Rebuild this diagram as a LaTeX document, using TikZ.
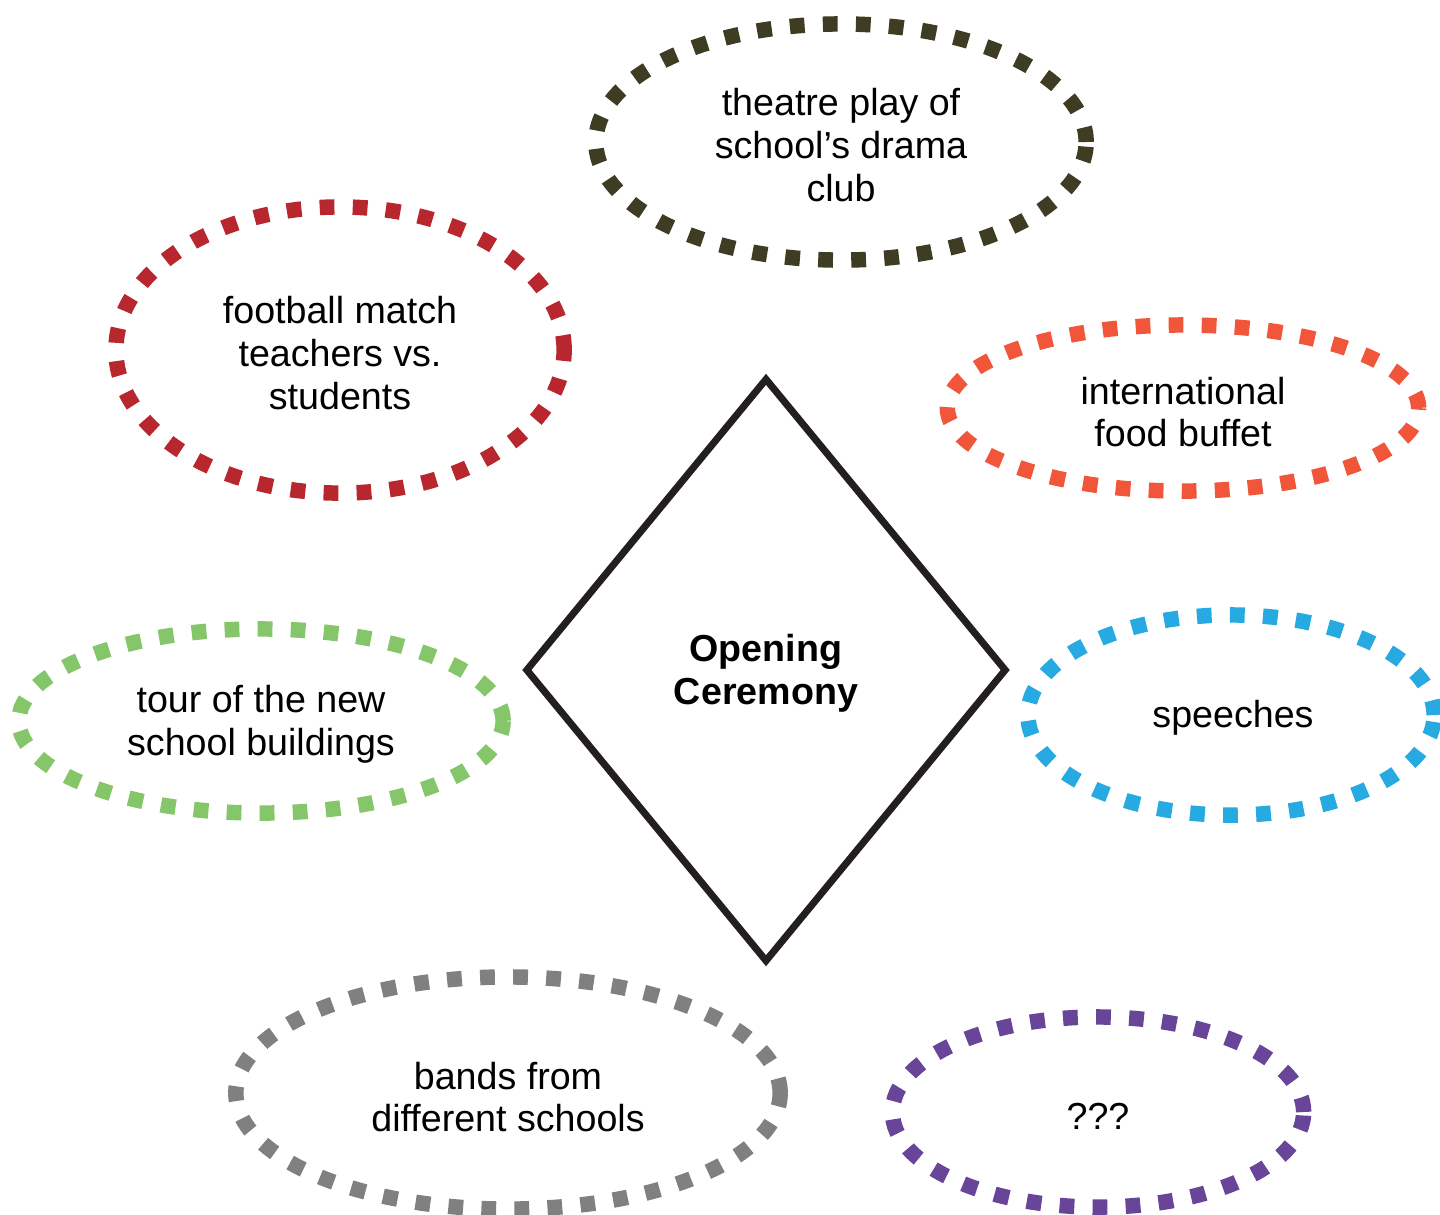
\documentclass[tikz,border=0pt]{standalone}
\usepackage{fontspec}
\setmainfont{Liberation Sans}
\usetikzlibrary{shapes.geometric}
\definecolor{cTheatre}{RGB}{62,60,35}
\definecolor{cFootball}{RGB}{183,39,45}
\definecolor{cFood}{RGB}{241,85,58}
\definecolor{cTour}{RGB}{134,198,106}
\definecolor{cSpeech}{RGB}{39,169,225}
\definecolor{cBands}{RGB}{128,128,128}
\definecolor{cPurple}{RGB}{104,69,153}
\definecolor{cDiamond}{RGB}{35,31,32}
\tikzset{
  bubble/.style={ellipse, draw=#1, line width=4.4pt, dash pattern=on 4.2pt off 5.2pt,
    inner sep=0pt},
  label text/.style={align=center, font=\fontsize{10.7pt}{12.2pt}\selectfont},
  centre/.style={diamond, draw=cDiamond, line width=2pt, inner sep=0pt}
}
\begin{document}
\begin{tikzpicture}[x=0.01cm,y=-0.01cm]
\useasboundingbox (0,0) rectangle (1440,1214);
\node[centre, minimum width=4.81cm, minimum height=5.84cm] (open) at (766,670) {};
\node[label text, font=\fontsize{10.7pt}{12.2pt}\selectfont\bfseries] (opentext) at (766,673) {Opening\\Ceremony};
\node[bubble=cTheatre, minimum width=4.90cm, minimum height=2.36cm] (theatre) at (841,142) {};
\node[label text] (theatretext) at (841,145) {theatre play of\\school’s drama\\club};
\node[bubble=cFootball, minimum width=4.48cm, minimum height=2.86cm] (football) at (340,350) {};
\node[label text] (footballtext) at (340,353) {football match\\teachers vs.\\students};
\node[bubble=cFood, minimum width=4.71cm, minimum height=1.66cm] (food) at (1183,408) {};
\node[label text] (foodtext) at (1183,412) {international\\food buffet};
\node[bubble=cTour, minimum width=4.84cm, minimum height=1.84cm] (tour) at (261,721) {};
\node[label text] (tourtext) at (261,724) {tour of the new\\school buildings};
\node[bubble=cSpeech, minimum width=4.06cm, minimum height=2.00cm] (speech) at (1231,715) {};
\node[label text] (speechtext) at (1233,718) {speeches};
\node[bubble=cBands, minimum width=5.44cm, minimum height=2.32cm] (bands) at (508,1093) {};
\node[label text] (bandstext) at (508,1097) {bands from\\different schools};
\node[bubble=cPurple, minimum width=4.11cm, minimum height=1.90cm] (unknown) at (1098,1112) {};
\node[label text] (unknowntext) at (1098,1116) {???};
\end{tikzpicture}
\end{document}
